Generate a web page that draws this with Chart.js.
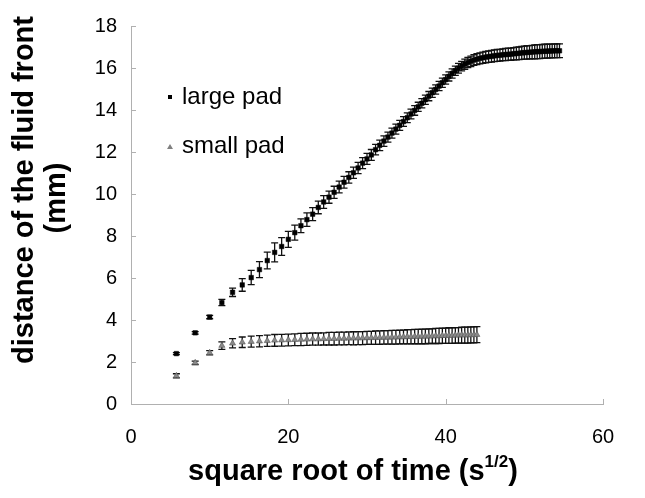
<!DOCTYPE html>
<html>
<head>
<meta charset="utf-8">
<script src="https://cdn.jsdelivr.net/npm/chart.js@4/dist/chart.umd.min.js"></script>
<style>
  html, body { margin: 0; padding: 0; background: #fff; }
  #wrap { width: 645px; height: 498px; }
</style>
</head>
<body>
<div id="wrap"><canvas id="chart" width="645" height="498"></canvas></div>
<script>
// square root of time (s^1/2) for each frame
const timeRoot = [
  5.77, 8.16, 10.00, 11.55, 12.91, 14.14, 15.28, 16.33, 17.32, 18.26,
  19.15, 20.00, 20.82, 21.60, 22.36, 23.09, 23.81, 24.49, 25.17, 25.82,
  26.46, 27.08, 27.69, 28.28, 28.87, 29.44, 30.00, 30.55, 31.09, 31.62,
  32.15, 32.66, 33.17, 33.67, 34.16, 34.64, 35.12, 35.59, 36.06, 36.51,
  36.97, 37.42, 37.86, 38.30, 38.73, 39.16, 39.58, 40.00, 40.41, 40.82,
  41.23, 41.63, 42.03, 42.43, 42.82, 43.20, 43.59, 43.97, 44.35, 44.72,
  45.09, 45.46, 45.83, 46.19, 46.55, 46.90, 47.26, 47.61, 47.96, 48.30,
  48.65, 48.99, 49.33, 49.67, 50.00, 50.33, 50.66, 50.99, 51.32, 51.64,
  51.96, 52.28, 52.60, 52.92, 53.23, 53.54, 53.85, 54.16, 54.47
];

// large pad: distance (mm) and error
const largePad = [
  2.40, 3.39, 4.14, 4.83, 5.32, 5.67, 6.02, 6.40, 6.83, 7.22,
  7.50, 7.84, 8.16, 8.49, 8.78, 9.04, 9.36, 9.62, 9.85, 10.08,
  10.33, 10.56, 10.79, 11.01, 11.24, 11.47, 11.67, 11.86, 12.11, 12.32,
  12.52, 12.71, 12.90, 13.09, 13.27, 13.45, 13.63, 13.81, 13.98, 14.15,
  14.32, 14.49, 14.66, 14.82, 14.98, 15.14, 15.30, 15.45, 15.60, 15.74,
  15.87, 15.99, 16.09, 16.18, 16.26, 16.32, 16.38, 16.42, 16.46, 16.49,
  16.52, 16.54, 16.56, 16.58, 16.60, 16.61, 16.63, 16.64, 16.65, 16.66,
  16.68, 16.69, 16.70, 16.72, 16.73, 16.74, 16.75, 16.76, 16.77, 16.78,
  16.78, 16.79, 16.80, 16.80, 16.81, 16.81, 16.82, 16.82, 16.82
];
const largePadErr = [
  0.05, 0.06, 0.08, 0.15, 0.20, 0.30, 0.34, 0.38, 0.40, 0.45,
  0.42, 0.38, 0.36, 0.33, 0.32, 0.31, 0.30, 0.30, 0.29, 0.29,
  0.28, 0.28, 0.27, 0.27, 0.27, 0.26, 0.26, 0.26, 0.25, 0.25,
  0.25, 0.24, 0.24, 0.24, 0.24, 0.23, 0.23, 0.23, 0.23, 0.22,
  0.22, 0.22, 0.22, 0.22, 0.22, 0.22, 0.22, 0.22, 0.22, 0.22,
  0.22, 0.23, 0.23, 0.24, 0.24, 0.25, 0.25, 0.26, 0.26, 0.27,
  0.27, 0.27, 0.28, 0.28, 0.28, 0.28, 0.28, 0.29, 0.29, 0.29,
  0.29, 0.30, 0.30, 0.31, 0.31, 0.32, 0.32, 0.32, 0.33, 0.33,
  0.33, 0.33, 0.33, 0.33, 0.33, 0.33, 0.33, 0.33, 0.33
];

// small pad: distance (mm) and error (first 58 frames)
const smallPad = [
  1.34, 1.96, 2.44, 2.78, 2.89, 2.94, 2.97, 2.99, 3.01, 3.03,
  3.04, 3.05, 3.06, 3.07, 3.08, 3.09, 3.09, 3.10, 3.11, 3.11,
  3.12, 3.12, 3.13, 3.13, 3.14, 3.14, 3.15, 3.15, 3.16, 3.16,
  3.17, 3.17, 3.18, 3.18, 3.19, 3.19, 3.20, 3.20, 3.21, 3.21,
  3.22, 3.22, 3.23, 3.23, 3.24, 3.24, 3.25, 3.25, 3.26, 3.26,
  3.27, 3.27, 3.28, 3.28, 3.28, 3.29, 3.29, 3.30
];
const smallPadErr = [
  0.10, 0.08, 0.10, 0.18, 0.22, 0.25, 0.26, 0.27, 0.27, 0.28,
  0.28, 0.28, 0.28, 0.29, 0.29, 0.29, 0.29, 0.29, 0.30, 0.30,
  0.30, 0.30, 0.30, 0.31, 0.31, 0.31, 0.31, 0.31, 0.32, 0.32,
  0.32, 0.32, 0.33, 0.33, 0.33, 0.33, 0.34, 0.34, 0.34, 0.34,
  0.35, 0.35, 0.35, 0.35, 0.36, 0.36, 0.36, 0.36, 0.37, 0.37,
  0.37, 0.37, 0.38, 0.38, 0.38, 0.38, 0.38, 0.38
];

const seriesNames = ['large pad', 'small pad'];
const xTicks = [0, 20, 40, 60];
const yTicks = [0, 2, 4, 6, 8, 10, 12, 14, 16, 18];

const FONT = 'Arial, "Liberation Sans", sans-serif';

function toPoints(ys) {
  return ys.map((y, i) => ({ x: timeRoot[i], y: y }));
}

// vertical error bars with caps, drawn under the markers
const errorBars = {
  id: 'errorBars',
  beforeDatasetsDraw(chart) {
    const ctx = chart.ctx;
    const xs = chart.scales.x, ys = chart.scales.y;
    ctx.save();
    ctx.strokeStyle = '#111';
    ctx.lineWidth = 1.3;
    chart.data.datasets.forEach(ds => {
      ds.data.forEach((p, i) => {
        const e = ds.errors[i];
        const px = xs.getPixelForValue(p.x);
        const top = ys.getPixelForValue(p.y + e);
        const bot = ys.getPixelForValue(p.y - e);
        ctx.beginPath();
        ctx.moveTo(px, top); ctx.lineTo(px, bot);
        ctx.moveTo(px - 3.5, top); ctx.lineTo(px + 3.5, top);
        ctx.moveTo(px - 3.5, bot); ctx.lineTo(px + 3.5, bot);
        ctx.stroke();
      });
    });
    ctx.restore();
  }
};

// inner tick marks, legend and axis titles
const decorations = {
  id: 'decorations',
  afterDraw(chart) {
    const ctx = chart.ctx;
    const xs = chart.scales.x, ys = chart.scales.y;
    const area = chart.chartArea;
    ctx.save();
    ctx.strokeStyle = '#b0b0b0';
    ctx.lineWidth = 1;
    ctx.beginPath();
    yTicks.forEach(v => {
      const py = Math.round(ys.getPixelForValue(v)) + 0.5;
      ctx.moveTo(area.left, py); ctx.lineTo(area.left + 5, py);
    });
    xTicks.forEach(v => {
      const px = Math.round(xs.getPixelForValue(v)) + 0.5;
      ctx.moveTo(px, area.bottom); ctx.lineTo(px, area.bottom - 5);
    });
    ctx.stroke();

    // legend
    ctx.fillStyle = '#000';
    ctx.font = '24px ' + FONT;
    ctx.textBaseline = 'middle';
    ctx.textAlign = 'left';
    ctx.fillRect(168, 95, 4, 4);
    ctx.fillText(seriesNames[0], 182, 97);
    ctx.fillStyle = '#808080';
    ctx.beginPath();
    ctx.moveTo(170, 144); ctx.lineTo(173, 149); ctx.lineTo(167, 149); ctx.closePath();
    ctx.fill();
    ctx.fillStyle = '#000';
    ctx.fillText(seriesNames[1], 182, 146);

    // x title with superscript
    ctx.font = 'bold 29px ' + FONT;
    const a = 'square root of time (s', sup = '1/2', b = ')';
    const wa = ctx.measureText(a).width, wb = ctx.measureText(b).width;
    ctx.font = 'bold 17px ' + FONT;
    const ws = ctx.measureText(sup).width;
    let x0 = 353 - (wa + ws + wb) / 2;
    ctx.textBaseline = 'alphabetic';
    ctx.font = 'bold 29px ' + FONT;
    ctx.fillText(a, x0, 480);
    ctx.font = 'bold 17px ' + FONT;
    ctx.fillText(sup, x0 + wa, 467);
    ctx.font = 'bold 29px ' + FONT;
    ctx.fillText(b, x0 + wa + ws, 480);

    // y title, two lines
    ctx.textAlign = 'center';
    ctx.textBaseline = 'middle';
    ctx.translate(25, 190);
    ctx.rotate(-Math.PI / 2);
    ctx.fillText('distance of the fluid front', 0, 0);
    ctx.rotate(Math.PI / 2);
    ctx.translate(32, 8);
    ctx.rotate(-Math.PI / 2);
    ctx.fillText('(mm)', 0, 0);
    ctx.restore();
  }
};

new Chart(document.getElementById('chart'), {
  type: 'scatter',
  data: {
    datasets: [
      {
        label: seriesNames[0],
        data: toPoints(largePad),
        errors: largePadErr,
        pointStyle: 'rect',
        pointRadius: 3.2,
        backgroundColor: '#000',
        borderColor: '#000',
        borderWidth: 0.5
      },
      {
        label: seriesNames[1],
        data: toPoints(smallPad),
        errors: smallPadErr,
        pointStyle: 'triangle',
        pointRadius: 3.5,
        backgroundColor: '#8a8a8a',
        borderColor: '#555',
        borderWidth: 0.6
      }
    ]
  },
  options: {
    responsive: false,
    animation: false,
    layout: { padding: { top: 17, right: 42, left: 0, bottom: 0 } },
    plugins: { legend: { display: false }, tooltip: { enabled: false } },
    scales: {
      x: {
        type: 'linear',
        min: 0, max: 60,
        afterBuildTicks: s => { s.ticks = xTicks.map(v => ({ value: v })); },
        afterFit: s => { s.height = 94; },
        grid: { display: false, drawTicks: false },
        border: { display: true, color: '#b0b0b0', width: 1 },
        ticks: { color: '#000', padding: 21, font: { family: FONT, size: 20 } }
      },
      y: {
        type: 'linear',
        min: 0, max: 18,
        afterBuildTicks: s => { s.ticks = yTicks.map(v => ({ value: v })); },
        afterFit: s => { s.width = 131; },
        grid: { display: false, drawTicks: false },
        border: { display: true, color: '#b0b0b0', width: 1 },
        ticks: { color: '#000', padding: 14, font: { family: FONT, size: 20 } }
      }
    }
  },
  plugins: [errorBars, decorations]
});
</script>
</body>
</html>
